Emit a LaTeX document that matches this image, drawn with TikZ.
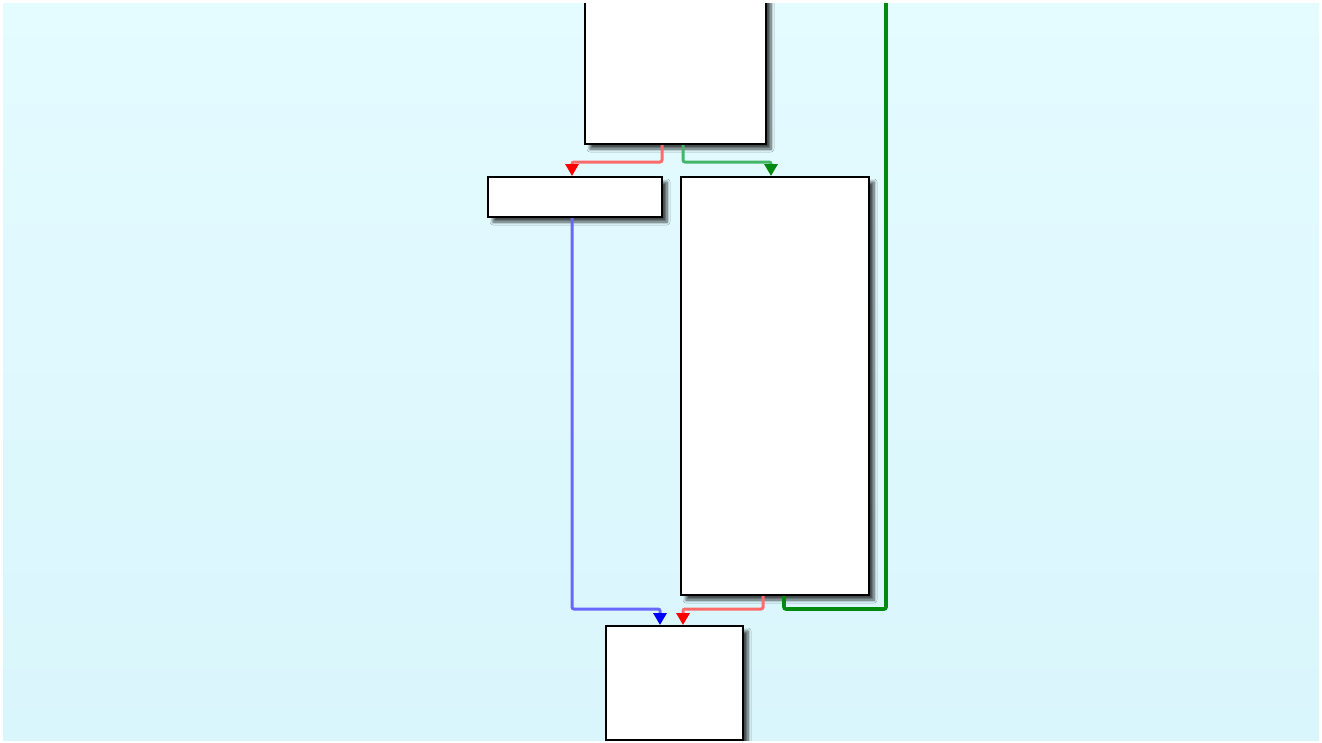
\documentclass[tikz,border=0pt]{standalone}
\usetikzlibrary{arrows.meta,shadows.blur}
\definecolor{bgtop}{HTML}{E4FBFF}
\definecolor{bgbot}{HTML}{D9F6FC}
\definecolor{redline}{HTML}{FF6A6A}
\definecolor{greenline}{HTML}{45B567}
\definecolor{blueline}{HTML}{6868FF}
\definecolor{darkgreen}{HTML}{008A10}
\tikzset{
  blockbox/.style={draw=black, line width=2pt, fill=white, inner sep=0pt, anchor=north west,
    blur shadow={shadow xshift=5pt, shadow yshift=-5pt, shadow blur steps=6, shadow blur radius=3pt, shadow opacity=70}},
  edgebase/.style={line width=3pt, rounded corners=2pt},
  tipstyle/.style={-{Triangle[width=13pt,length=12pt,color=#1]}},
  redge/.style={edgebase, draw=redline, tipstyle=red},
  gedge/.style={edgebase, draw=greenline, tipstyle=darkgreen},
  bedge/.style={edgebase, draw=blueline, tipstyle=blue},
  backedge/.style={line width=3.6pt, draw=darkgreen, rounded corners=2pt},
}
\begin{document}
\begin{tikzpicture}[x=1pt,y=-1pt]
\useasboundingbox (0,0) rectangle (1322,742);
\fill[white] (0,0) rectangle (1322,742);
\shade[top color=bgtop, bottom color=bgbot] (3,3) rectangle (1319,740);
\begin{scope}
\clip (3,3) rectangle (1319,740);
\node[blockbox, minimum width=181pt, minimum height=153pt] (A) at (584,-10) {};
\node[blockbox, minimum width=174pt, minimum height=40pt] (B) at (487,176) {};
\node[blockbox, minimum width=188pt, minimum height=418pt] (C) at (680,176) {};
\node[blockbox, minimum width=137pt, minimum height=114pt] (D) at (605,625) {};
\coordinate (loopend) at (886,-20);
\draw[redge] ([xshift=78pt]A.south west) -- ++(0,17) -| ([xshift=85pt]B.north west);
\draw[gedge] ([xshift=99pt]A.south west) -- ++(0,17) -| ([xshift=91pt]C.north west);
\draw[bedge] ([xshift=85pt]B.south west) -- ++(0,391) -| ([xshift=55pt]D.north west);
\draw[redge] ([xshift=83pt]C.south west) -- ++(0,13) -| ([xshift=78pt]D.north west);
\draw[backedge] ([xshift=104pt]C.south west) -- ++(0,13) -| (loopend);
\end{scope}
\end{tikzpicture}
\end{document}
